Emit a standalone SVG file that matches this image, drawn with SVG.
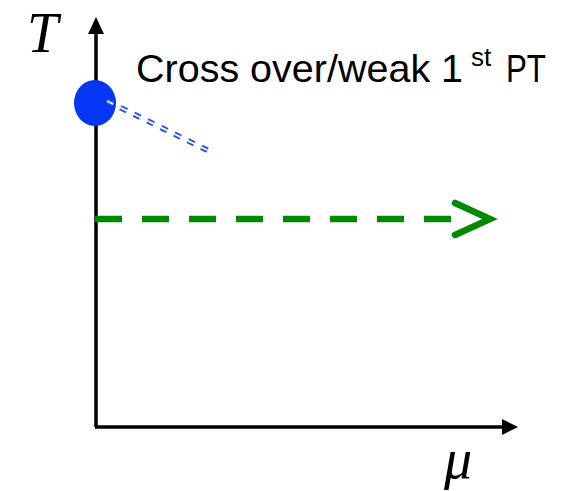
<svg xmlns="http://www.w3.org/2000/svg" width="562" height="491" viewBox="0 0 562 491">
<style>
.axis{stroke:#000;stroke-width:3.5;fill:none}
.lbl{font-family:"Liberation Serif",serif;font-style:italic;font-size:56px;fill:#000}
.txt{font-family:"Liberation Sans",Arial,sans-serif;font-size:39.5px;fill:#000}
.grn{stroke:#008a00;stroke-width:6.5;fill:none}
.dbl{stroke-dasharray:7 8;fill:none}
</style>
<rect width="562" height="491" fill="#fff"/>
<g id="axes">
<path class="axis" d="M96,427 V32 M95,427 H503"/>
<polygon points="96,17 88,34 104,34" fill="#000"/>
<polygon points="518,427 502,419 502,435" fill="#000"/>
</g>
<g id="labels">
<text class="lbl" x="27" y="52">T</text>
<text class="lbl" x="444" y="478">μ</text>
</g>
<g id="connectors">
<path class="grn" d="M95,219 H452" stroke-dasharray="27 20"/>
<path class="grn" d="M455,203 L490,219 L455,235" stroke-linecap="round" stroke-linejoin="miter"/>
</g>
<g id="crossover-point">
<ellipse cx="95" cy="103" rx="21" ry="23" fill="#0336f5"/>
</g>
<g id="crossover-line">
<path class="dbl" d="M107,101 L211,152" stroke="#1f4ff0" stroke-width="5.5"/>
<path class="dbl" d="M107,101 L211,152" stroke="#fff" stroke-width="1.8"/>
</g>
<g id="title">
<text class="txt" x="136" y="82">Cross over/weak 1</text>
<text class="txt" x="471" y="66" style="font-size:26px">st</text>
<text class="txt" x="506" y="82" textLength="40" lengthAdjust="spacingAndGlyphs">PT</text>
</g>
</svg>
